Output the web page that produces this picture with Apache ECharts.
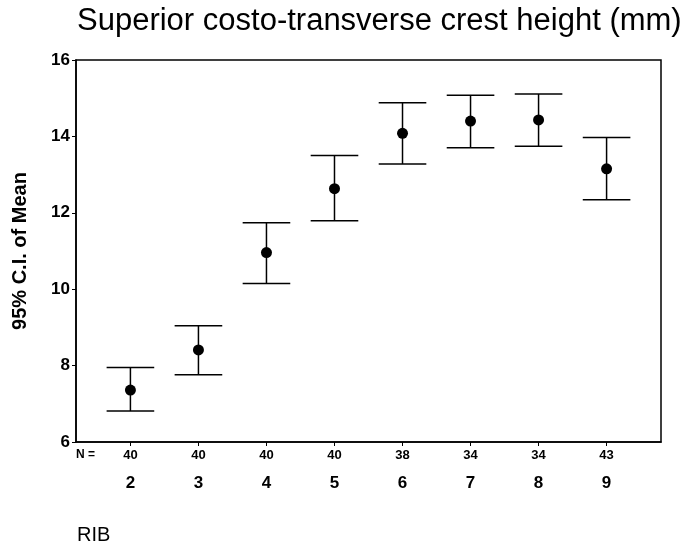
<!DOCTYPE html>
<html>
<head>
<meta charset="utf-8">
<script src="https://cdn.jsdelivr.net/npm/echarts@6/dist/echarts.min.js"></script>
<style>
  html, body { margin: 0; padding: 0; background: #fff; }
  #chart { width: 681px; height: 548px; }
</style>
</head>
<body>
<div id="chart"></div>
<script>
// rib number, sample size and 95% CI of the mean (mm)
const ribs = [2, 3, 4, 5, 6, 7, 8, 9];
const nCounts = [40, 40, 40, 40, 38, 34, 34, 43];
const means = [7.36, 8.41, 10.96, 12.63, 14.08, 14.40, 14.43, 13.15];
const lower = [6.81, 7.76, 10.15, 11.79, 13.28, 13.70, 13.74, 12.34];
const upper = [7.95, 9.04, 11.74, 13.50, 14.88, 15.08, 15.11, 13.97];
const yTicks = [6, 8, 10, 12, 14, 16];

const FONT = '"Liberation Sans", Arial, sans-serif';
const CAP_HALF = 0.35; // cap half-width in rib units

const chart = echarts.init(document.getElementById('chart'));

chart.setOption({
  animation: false,
  backgroundColor: '#fff',
  title: {
    text: 'Superior costo-transverse crest height (mm)',
    left: 72,
    top: 1,
    textStyle: { fontFamily: FONT, fontSize: 31, fontWeight: 'normal', color: '#000' }
  },
  grid: {
    left: 76, right: 20, top: 60, bottom: 106,
    show: true, borderColor: '#000', borderWidth: 1.5, backgroundColor: 'transparent'
  },
  graphic: [
    { type: 'text', left: 76, top: 449,
      style: { text: 'N =', font: 'bold 12px ' + FONT, fill: '#000' } },
    { type: 'text', left: 77, top: 525,
      style: { text: 'RIB', font: '20px ' + FONT, fill: '#000' } }
  ],
  xAxis: {
    type: 'value',
    min: 1.2,
    max: 9.8,
    splitLine: { show: false },
    axisLine: { show: true, lineStyle: { color: '#000', width: 1.5 } },
    axisTick: { show: true, customValues: ribs, length: 4, lineStyle: { color: '#000' } },
    axisLabel: {
      customValues: ribs,
      margin: 5,
      formatter: v => {
        const i = ribs.indexOf(v);
        return '{n|' + nCounts[i] + '}\n{c|' + v + '}';
      },
      rich: {
        n: { fontFamily: FONT, fontSize: 13, fontWeight: 'bold', color: '#000', lineHeight: 16 },
        c: { fontFamily: FONT, fontSize: 17, fontWeight: 'bold', color: '#000', lineHeight: 40 }
      }
    }
  },
  yAxis: {
    type: 'value',
    min: 6,
    max: 16,
    interval: 2,
    name: '95% C.I. of Mean',
    nameLocation: 'middle',
    nameGap: 46,
    nameTextStyle: { fontFamily: FONT, fontSize: 20, fontWeight: 'bold', color: '#000' },
    splitLine: { show: false },
    axisLine: { show: true, lineStyle: { color: '#000', width: 1.5 } },
    axisTick: { show: true, length: 4, lineStyle: { color: '#000' } },
    axisLabel: {
      margin: 6,
      fontFamily: FONT, fontSize: 17, fontWeight: 'bold', color: '#000',
      formatter: v => (yTicks.includes(v) ? String(v) : '')
    }
  },
  series: [
    {
      type: 'custom',
      data: ribs.map((r, i) => [r, lower[i], upper[i]]),
      renderItem: (params, api) => {
        const x = api.value(0);
        const lo = api.coord([x, api.value(1)]);
        const hi = api.coord([x, api.value(2)]);
        const loL = api.coord([x - CAP_HALF, api.value(1)]);
        const loR = api.coord([x + CAP_HALF, api.value(1)]);
        const hiL = api.coord([x - CAP_HALF, api.value(2)]);
        const hiR = api.coord([x + CAP_HALF, api.value(2)]);
        const style = { stroke: '#000', lineWidth: 1.5 };
        return {
          type: 'group',
          children: [
            { type: 'line', shape: { x1: lo[0], y1: lo[1], x2: hi[0], y2: hi[1] }, style },
            { type: 'line', shape: { x1: loL[0], y1: loL[1], x2: loR[0], y2: loR[1] }, style },
            { type: 'line', shape: { x1: hiL[0], y1: hiL[1], x2: hiR[0], y2: hiR[1] }, style }
          ]
        };
      },
      z: 2
    },
    {
      type: 'scatter',
      data: ribs.map((r, i) => [r, means[i]]),
      symbol: 'circle',
      symbolSize: 11,
      itemStyle: { color: '#000', opacity: 1 },
      z: 3
    }
  ]
});
</script>
</body>
</html>
